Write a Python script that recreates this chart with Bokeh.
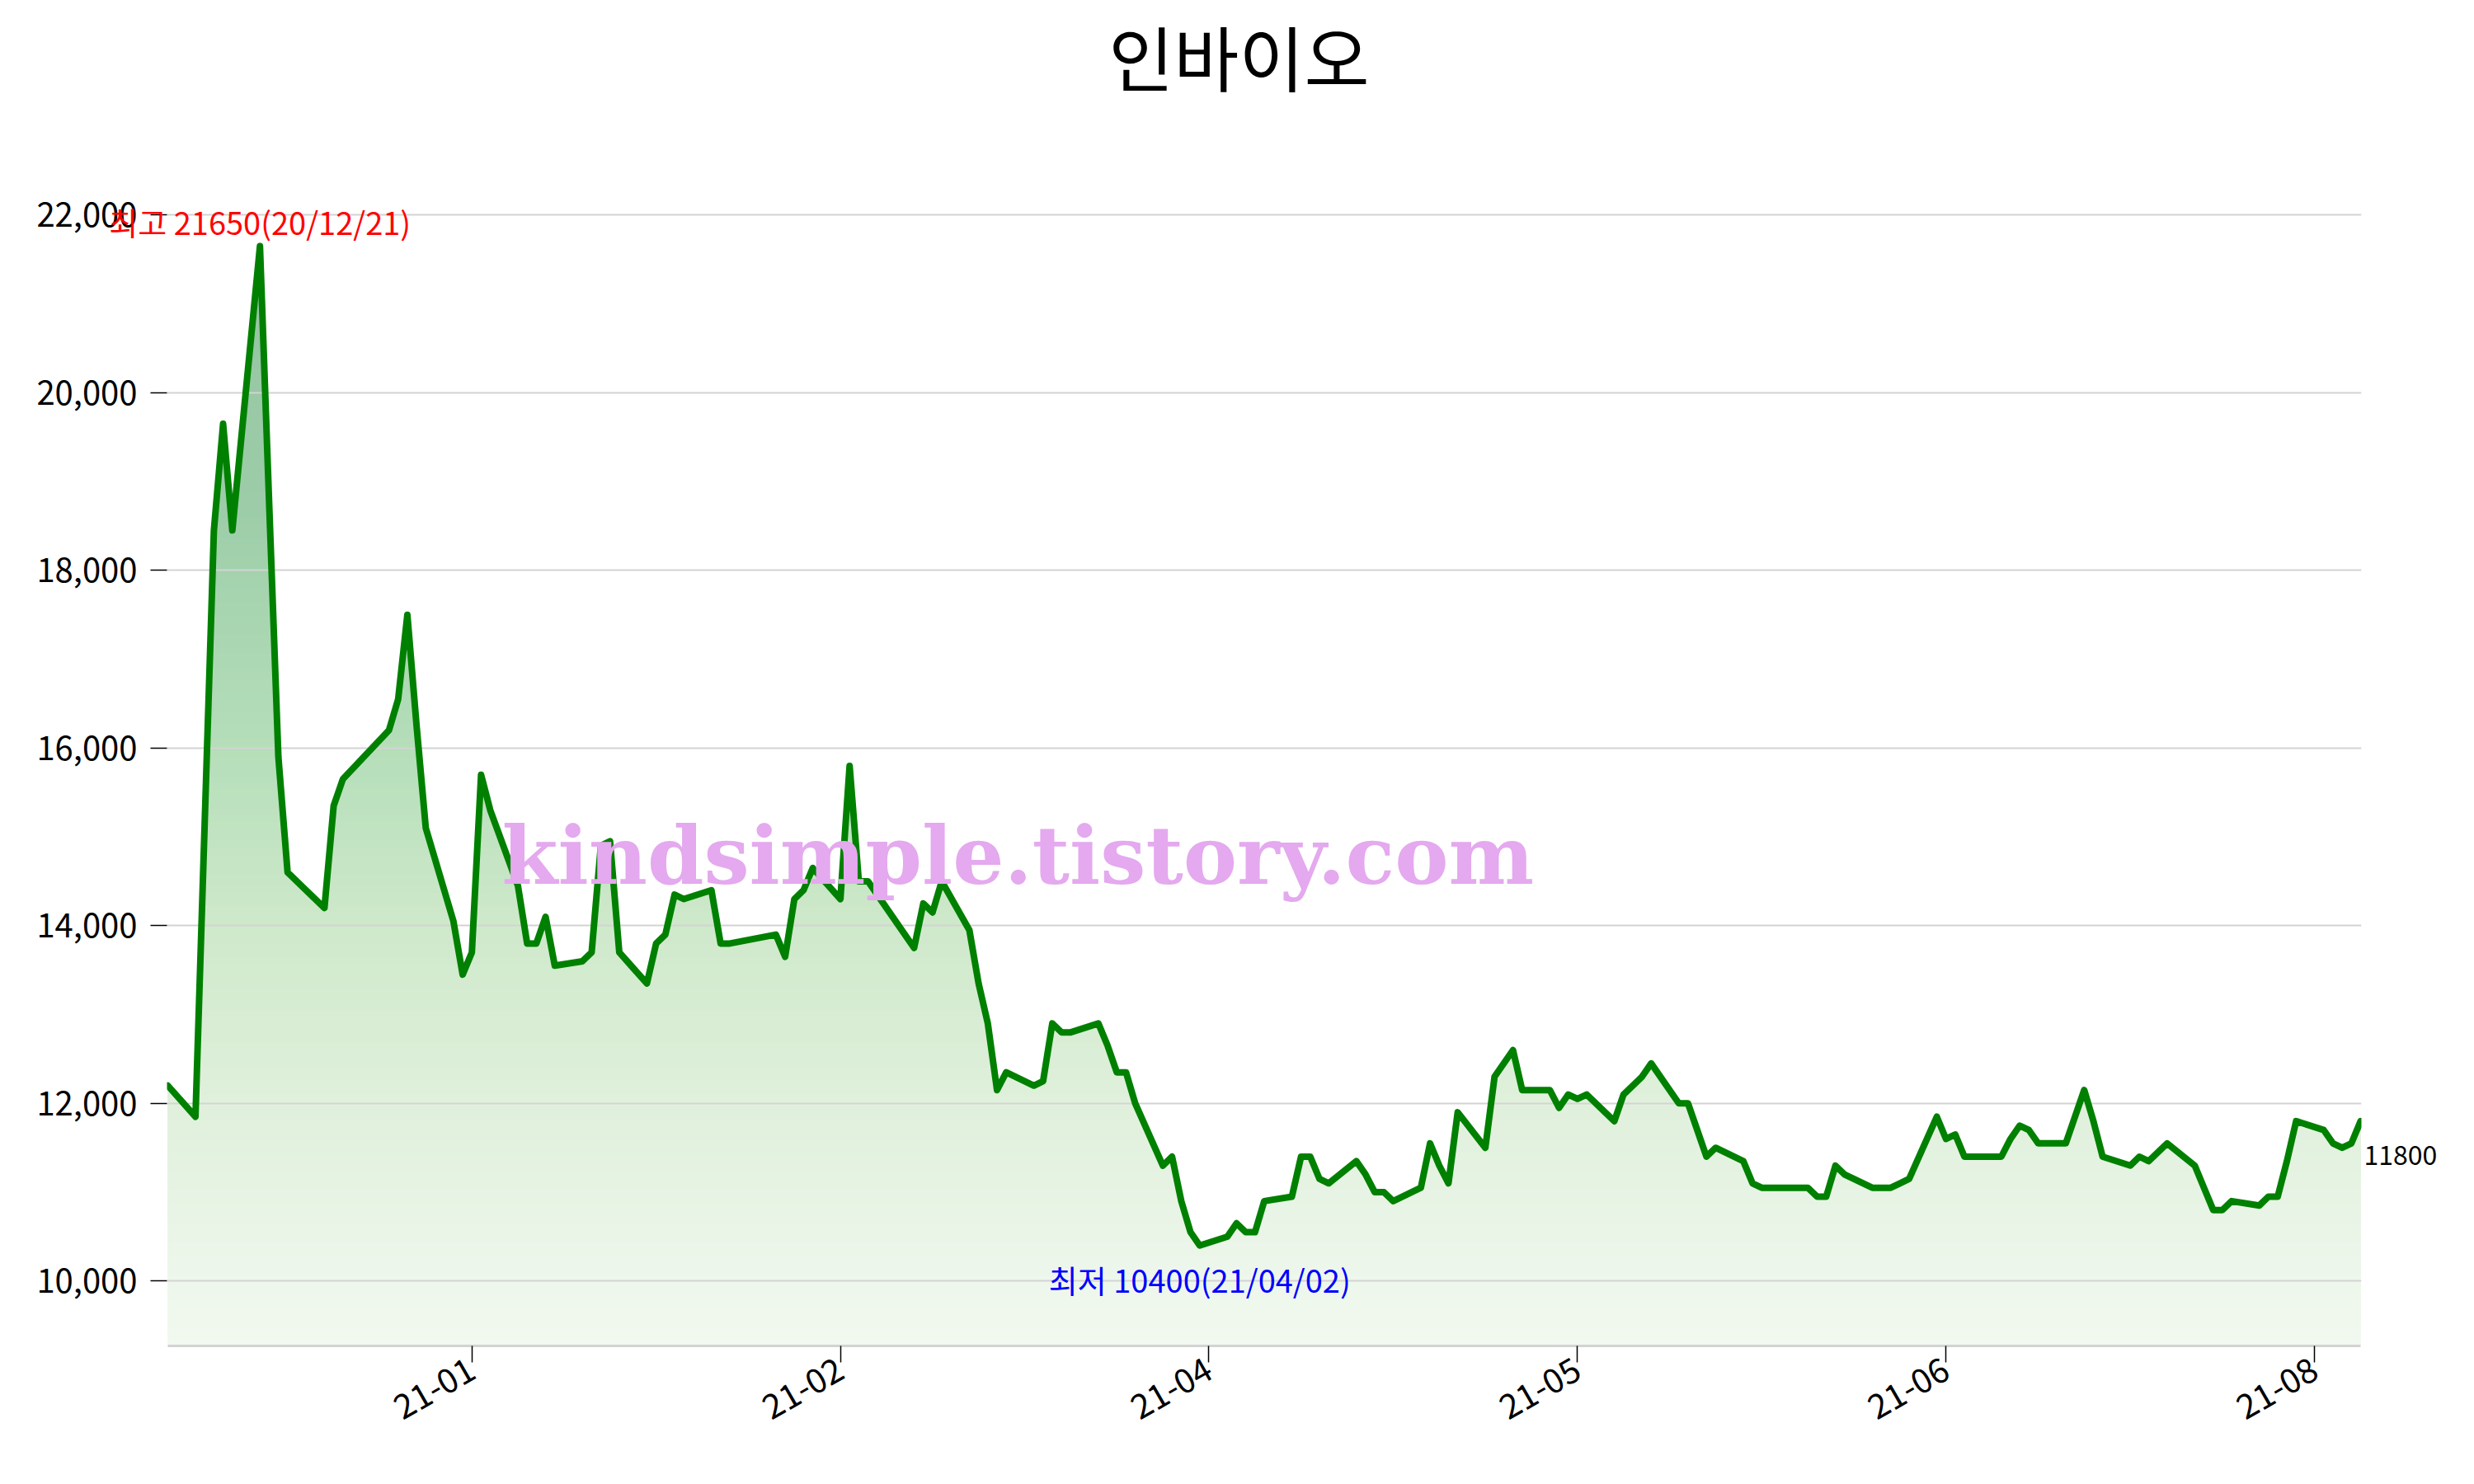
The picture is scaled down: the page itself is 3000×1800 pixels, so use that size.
import math
import pandas as pd
from bokeh.plotting import figure
from bokeh.models import (ColumnDataSource, Range1d, FixedTicker, DatetimeTickFormatter,
                          NumeralTickFormatter, Label)
from bokeh.embed import file_html
from bokeh.resources import INLINE

TITLE = "인바이오"
WATERMARK = "kindsimple.tistory.com"

dates = [
    "2020-12-11", "2020-12-14", "2020-12-15", "2020-12-16", "2020-12-17", "2020-12-18",
    "2020-12-21", "2020-12-22", "2020-12-23", "2020-12-24", "2020-12-28", "2020-12-29", "2020-12-30",
    "2021-01-04", "2021-01-05", "2021-01-06", "2021-01-07", "2021-01-08",
    "2021-01-11", "2021-01-12", "2021-01-13", "2021-01-14", "2021-01-15",
    "2021-01-18", "2021-01-19", "2021-01-20", "2021-01-21", "2021-01-22",
    "2021-01-25", "2021-01-26", "2021-01-27", "2021-01-28", "2021-01-29",
    "2021-02-01", "2021-02-02", "2021-02-03", "2021-02-04", "2021-02-05",
    "2021-02-08", "2021-02-09", "2021-02-10",
    "2021-02-15", "2021-02-16", "2021-02-17", "2021-02-18", "2021-02-19",
    "2021-02-22", "2021-02-23", "2021-02-24", "2021-02-25", "2021-02-26",
    "2021-03-02", "2021-03-03", "2021-03-04", "2021-03-05",
    "2021-03-08", "2021-03-09", "2021-03-10", "2021-03-11", "2021-03-12",
    "2021-03-15", "2021-03-16", "2021-03-17", "2021-03-18", "2021-03-19",
    "2021-03-22", "2021-03-23", "2021-03-24", "2021-03-25", "2021-03-26",
    "2021-03-29", "2021-03-30", "2021-03-31",
    "2021-04-01", "2021-04-02",
    "2021-04-05", "2021-04-06", "2021-04-07", "2021-04-08", "2021-04-09",
    "2021-04-12", "2021-04-13", "2021-04-14", "2021-04-15", "2021-04-16",
    "2021-04-19", "2021-04-20", "2021-04-21", "2021-04-22", "2021-04-23",
    "2021-04-26", "2021-04-27", "2021-04-28", "2021-04-29", "2021-04-30",
    "2021-05-03", "2021-05-04", "2021-05-06", "2021-05-07",
    "2021-05-10", "2021-05-11", "2021-05-12", "2021-05-13", "2021-05-14",
    "2021-05-17", "2021-05-18", "2021-05-20", "2021-05-21",
    "2021-05-24", "2021-05-25", "2021-05-26", "2021-05-27", "2021-05-28",
    "2021-05-31",
    "2021-06-01", "2021-06-02", "2021-06-03", "2021-06-04",
    "2021-06-07", "2021-06-08", "2021-06-09", "2021-06-10", "2021-06-11",
    "2021-06-14", "2021-06-15", "2021-06-16", "2021-06-17", "2021-06-18",
    "2021-06-21", "2021-06-22", "2021-06-23", "2021-06-24", "2021-06-25",
    "2021-06-28", "2021-06-29", "2021-06-30",
    "2021-07-01", "2021-07-02",
    "2021-07-05", "2021-07-06", "2021-07-07", "2021-07-08", "2021-07-09",
    "2021-07-12", "2021-07-13", "2021-07-14", "2021-07-15", "2021-07-16",
    "2021-07-19", "2021-07-20", "2021-07-21", "2021-07-22", "2021-07-23",
    "2021-07-26", "2021-07-27", "2021-07-28", "2021-07-29", "2021-07-30",
    "2021-08-02", "2021-08-03", "2021-08-04", "2021-08-05", "2021-08-06",
]

prices = [
    12200, 11850, 15150, 18450, 19650, 18450, 21650, 18750, 15900, 14600, 14200, 15350, 15650,
    16200, 16550, 17500, 16250, 15100, 14050, 13450, 13700, 15700, 15300,
    14450, 13800, 13800, 14100, 13550, 13600, 13700, 14900, 14950, 13700,
    13350, 13800, 13900, 14350, 14300, 14400, 13800, 13800,
    13900, 13650, 14300, 14400, 14650, 14300, 15800, 14500, 14500, 14350,
    13750, 14250, 14150, 14500, 13950, 13350, 12900, 12150, 12350,
    12200, 12250, 12900, 12800, 12800, 12900, 12650, 12350, 12350, 12000,
    11300, 11400, 10900,
    10550, 10400, 10500, 10650, 10550, 10550, 10900,
    10950, 11400, 11400, 11150, 11100, 11350, 11200, 11000, 11000, 10900,
    11050, 11550, 11300, 11100, 11900,
    11500, 12300, 12600, 12150, 12150, 11950, 12100, 12050, 12100,
    11800, 12100, 12300, 12450, 12000, 12000, 11700, 11400, 11500, 11350,
    11100, 11050, 11050, 11050, 11050, 10950, 10950, 11300, 11200,
    11050, 11050, 11050, 11100, 11150, 11850, 11600, 11650, 11400, 11400,
    11400, 11600, 11750,
    11700, 11550, 11550, 11850, 12150, 11800, 11400,
    11300, 11400, 11350, 11450, 11550, 11300, 11050, 10800, 10800, 10900,
    10850, 10950, 10950, 11350, 11800,
    11700, 11550, 11500, 11550, 11800,
]

x_tick_dates = ["2021-01-13", "2021-02-22", "2021-04-03", "2021-05-13", "2021-06-22", "2021-08-01"]
y_ticks = [10000, 12000, 14000, 16000, 18000, 20000, 22000]

# ---------------------------------------------------------------- build
dt = pd.to_datetime(dates)
ms = [float(t.value // 10**6) for t in dt]
tick_ms = [float(pd.Timestamp(d).value // 10**6) for d in x_tick_dates]

FONT = "Noto Sans CJK KR"
Y_LO, Y_HI = 9270, 22300
X0, X1 = ms[0], ms[-1]
FRAME_W = 2659
PAD = (X1 - X0) / FRAME_W  # about one pixel, keeps edge seams inside the frame

hi_val = max(prices)
lo_val = min(prices)
i_hi = prices.index(hi_val)
i_lo = prices.index(lo_val)
last_val = prices[-1]

src = ColumnDataSource(dict(x=dt, y=prices))

p = figure(width=2984, height=1784, x_axis_type="datetime",
           output_backend="svg", toolbar_location=None,
           x_range=Range1d(X0 - PAD, X1 + PAD), y_range=Range1d(Y_LO, Y_HI),
           min_border_left=202, min_border_right=121, min_border_bottom=152,
           min_border_top=228)
p.outline_line_color = None
p.background_fill_color = "white"
p.border_fill_color = "white"

# gradient fill under the line: stacked bands, then white mask above the line
grad_stops = [
    (9270, (242, 249, 240)), (10000, (238, 247, 236)), (12000, (224, 240, 220)),
    (14000, (207, 233, 203)), (16000, (181, 222, 185)), (17800, (165, 212, 175)),
    (18700, (157, 205, 168)), (20700, (150, 198, 163)), (22300, (145, 195, 160)),
]


def grad_color(v):
    for (v0, c0), (v1, c1) in zip(grad_stops[:-1], grad_stops[1:]):
        if v0 <= v <= v1:
            t = (v - v0) / (v1 - v0)
            c = [round(a + (b - a) * t) for a, b in zip(c0, c1)]
            return "#%02x%02x%02x" % tuple(c)
    return "#%02x%02x%02x" % grad_stops[-1][1]


n_bands = 170
band_h = (hi_val - Y_LO) / n_bands
band_bottoms = [Y_LO - 2 * band_h + band_h * i for i in range(n_bands + 2)]
band_colors = [grad_color(min(max(b + band_h, Y_LO), Y_HI)) for b in band_bottoms]
TOP_EXT = Y_HI + 5 * (Y_HI - Y_LO)
nb = len(band_bottoms)
p.quad(left=[X0] * nb, right=[X1] * nb, bottom=band_bottoms,
       top=[hi_val] * nb, fill_color=band_colors, line_color=None, level="image")
p.varea(x="x", y1="y", y2=TOP_EXT, source=src, fill_color="white", level="image")
# hide anti-aliasing seams at the left/right ends above the line
p.segment(x0=[X0, X1], y0=[prices[0], prices[-1]], x1=[X0, X1], y1=[TOP_EXT, TOP_EXT],
          line_color="white", line_width=5, level="image")

# price line
p.line("x", "y", source=src, line_color="#008000", line_width=8,
       line_join="round", line_cap="round")

# axes
xa = p.xaxis[0]
xa.ticker = FixedTicker(ticks=tick_ms)
fmt = "%y-%m"
xa.formatter = DatetimeTickFormatter(microseconds=fmt, milliseconds=fmt, seconds=fmt,
                                     minsec=fmt, minutes=fmt, hourmin=fmt, hours=fmt,
                                     days=fmt, months=fmt, years=fmt)
xa.major_label_orientation = math.pi / 6
xa.major_label_text_font = FONT
xa.major_label_text_font_size = "41px"
xa.major_label_text_color = "black"
xa.axis_line_color = "#d3d3d3"
xa.axis_line_width = 3
xa.bounds = (X0, X1)
xa.major_tick_line_color = "black"
xa.major_tick_line_width = 1.5
xa.major_tick_out = 20
xa.major_tick_in = 0
xa.minor_tick_line_color = None
xa.major_label_standoff = 5

ya = p.yaxis[0]
ya.ticker = FixedTicker(ticks=y_ticks)
ya.formatter = NumeralTickFormatter(format="0,0")
ya.major_label_text_font = FONT
ya.major_label_text_font_size = "40px"
ya.major_label_text_color = "black"
ya.axis_line_color = None
ya.major_tick_line_color = "black"
ya.major_tick_line_width = 1.5
ya.major_tick_out = 20
ya.major_tick_in = 0
ya.minor_tick_line_color = None
ya.major_label_standoff = 16

p.xgrid.grid_line_color = None
p.ygrid.grid_line_color = "#d3d3d3"
p.ygrid.grid_line_width = 2

# title (placed in the top panel so it is not clipped by the frame)
p.add_layout(Label(x=X0 + 0.4885 * (X1 - X0), y=Y_LO + 1.1147 * (Y_HI - Y_LO),
                   text=TITLE, text_color="black", text_font=FONT,
                   text_font_size="86px", text_align="center",
                   text_baseline="middle"), "above")

p.add_layout(Label(x=ms[i_hi], y=hi_val * 1.013,
                   text=f"최고 {hi_val}({dt[i_hi]:%y/%m/%d})",
                   text_color="red", text_font=FONT, text_font_size="38px",
                   text_align="center", text_baseline="middle"), "above")
p.add_layout(Label(x=ms[i_lo], y=lo_val * 0.964,
                   text=f"최저 {lo_val}({dt[i_lo]:%y/%m/%d})",
                   text_color="blue", text_font=FONT, text_font_size="38px",
                   text_align="center", text_baseline="middle"))
p.add_layout(Label(x=ms[-1], y=last_val * 0.968, x_offset=4,
                   text=f"{last_val}",
                   text_color="black", text_font=FONT, text_font_size="32px",
                   text_align="left", text_baseline="middle"), "right")

# watermark
p.add_layout(Label(x=X0 + 0.3877 * (X1 - X0),
                   y=Y_LO + 0.4238 * (Y_HI - Y_LO),
                   text=WATERMARK, text_color="#e4a9ee",
                   text_font="DejaVu Serif", text_font_style="bold",
                   text_font_size="98px", text_align="center",
                   text_baseline="alphabetic"))

open("out.html", "w").write(file_html(p, INLINE))
